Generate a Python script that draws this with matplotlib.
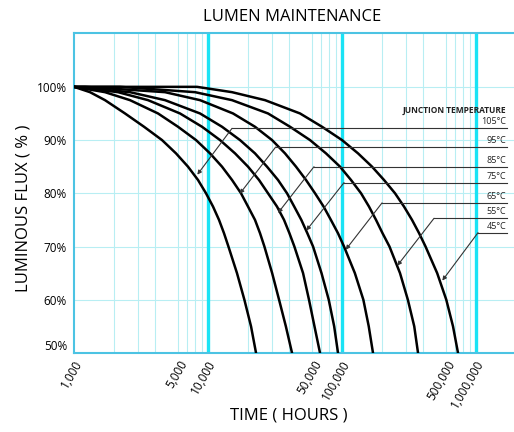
import matplotlib
matplotlib.use('Agg')
import matplotlib.pyplot as plt
from matplotlib.transforms import ScaledTranslation

plt.rcParams['font.family'] = ['Open Sans', 'DejaVu Sans']

#%% Data
# flux levels (%) at which every curve was read; 2nd entry = end of the flat part
flux = [100, 100, 99, 97.5, 95, 92.5, 90, 87.5, 85, 82.5, 80, 77.5, 75, 72.5, 70, 65, 60, 55, 50]

# hours where each junction temperature curve passes the levels above
t_105 = [1000, 1000, 1316, 1703, 2402, 3331, 4537, 5769, 7090, 8420, 9660, 10900, 12080,
         13160, 14200, 16450, 18680, 20940, 22820]
t_95 = [1000, 1000, 1703, 2617, 4236, 5971, 8137, 10350, 12720, 15110, 17630, 19890, 22420,
        24440, 26350, 30100, 33900, 38100, 42360]
t_85 = [1000, 1000, 2130, 3566, 6180, 9020, 12290, 15910, 19890, 24020, 28040, 32730, 36920,
        40500, 44100, 51200, 56700, 62300, 68520]
t_75 = [1000, 1000, 2617, 4776, 8716, 12720, 17330, 22420, 27560, 33300, 38870, 44000, 49700,
        55100, 60800, 70300, 79600, 87400, 93350]
t_65 = [1000, 1208, 4776, 8716, 15370, 22420, 30040, 37550, 45370, 53860, 62900, 72900, 82600,
        93300, 103500, 124700, 144300, 158300, 170300]
t_55 = [1000, 2204, 8000, 15110, 28040, 40920, 57700, 75960, 96630, 116700, 138700, 159000,
        179400, 200600, 226000, 270900, 310000, 346000, 369200]
t_45 = [1000, 8280, 15110, 26630, 48610, 70920, 100000, 131700, 167500, 205800, 248700, 290200,
        333000, 376000, 420000, 513000, 600000, 673500, 733900]
curves = [t_105, t_95, t_85, t_75, t_65, t_55, t_45]
temps = ['105°C', '95°C', '85°C', '75°C', '65°C', '55°C', '45°C']

# label leaders: horizontal line level, where the slanted part starts, arrow tip
lead_y = [92.2, 88.7, 85.0, 82.0, 78.2, 75.3, 72.6]
lead_x0 = [15100, 32000, 61800, 103500, 199000, 486000, 1035000]
tip_x = [8320, 17250, 33300, 54150, 106600, 258600, 560400]
tip_y = [83.5, 79.9, 76.3, 73.0, 69.4, 66.4, 63.6]
lead_end = 1.70e6

hour_ticks = [1000, 5000, 10000, 50000, 100000, 500000, 1000000]
hour_labels = ['1,000', '5,000', '10,000', '50,000', '100,000', '500,000', '1,000,000']
flux_ticks = [50, 60, 70, 80, 90, 100]

#%% Figure
fig = plt.figure(figsize=(5.14, 4.32), dpi=100)
ax = fig.add_axes([0.144, 0.183, 0.86, 0.741])
ax.set_xscale('log')
ax.set_xlim(1000, 1.99e6)
ax.set_ylim(50, 110.15)

# grid: pale minor lines, bright decade lines
minor = [m * 10**k for k in range(3, 7) for m in range(2, 10) if m * 10**k < 1.99e6]
ax.set_xticks(minor, minor=True)
ax.set_xticklabels([], minor=True)
ax.grid(which='minor', axis='x', color='#b8eef3', lw=0.8)
ax.set_yticks(flux_ticks)
ax.set_yticklabels(['%d%%' % v for v in flux_ticks], fontsize=8.5)
ax.grid(which='major', axis='y', color='#b8eef3', lw=0.8)
for dec in [1e4, 1e5, 1e6]:
    ax.axvline(dec, color='#19e3f5', lw=2.4, zorder=1)
ax.set_axisbelow(True)

ax.set_xticks(hour_ticks)
ax.set_xticklabels(hour_labels, fontsize=8.5, rotation=60, ha='right', va='center',
                   rotation_mode='anchor')
ax.tick_params(which='both', length=0)
ax.tick_params(axis='x', pad=6)
ax.tick_params(axis='y', pad=5)
for lab in ax.get_xticklabels():
    dx = 17 if lab.get_text().startswith('5') else 5
    lab.set_transform(lab.get_transform() + ScaledTranslation(dx / 100, 0, fig.dpi_scale_trans))
ylab50 = ax.get_yticklabels()[0]
ylab50.set_transform(ylab50.get_transform() + ScaledTranslation(0, 8 / 100, fig.dpi_scale_trans))

for side in ['left', 'top', 'bottom']:
    ax.spines[side].set_color('#4cc3e3')
    ax.spines[side].set_linewidth(1.5)
ax.spines['right'].set_visible(False)

# lumen maintenance curves
for t in curves:
    ax.plot(t, flux, color='black', lw=1.8, solid_joinstyle='round', zorder=3)

# junction temperature labels with leaders
ax.text(1.68e6, 95.5, 'JUNCTION TEMPERATURE', ha='right', va='center', fontsize=6,
        fontweight='bold', color='#222222')
for i in range(len(temps)):
    ax.plot([lead_x0[i], lead_end], [lead_y[i], lead_y[i]], color='#333333', lw=0.8, zorder=4)
    ax.annotate('', xy=(tip_x[i], tip_y[i]), xytext=(lead_x0[i], lead_y[i]),
                arrowprops=dict(arrowstyle='-|>', color='#333333', lw=0.8,
                                mutation_scale=6, shrinkA=0, shrinkB=0), zorder=4)
    ax.annotate(temps[i], xy=(1.68e6, lead_y[i]), xytext=(0, 1.5), textcoords='offset points',
                ha='right', va='bottom', fontsize=6.5, color='#222222')

fig.text(0.568, 0.961, 'LUMEN MAINTENANCE', ha='center', va='center', fontsize=12)
fig.text(0.045, 0.518, 'LUMINOUS FLUX ( % )', ha='center', va='center', rotation=90, fontsize=12)
fig.text(0.562, 0.039, 'TIME ( HOURS )', ha='center', va='center', fontsize=12)

fig.savefig('out.png', dpi=100)
